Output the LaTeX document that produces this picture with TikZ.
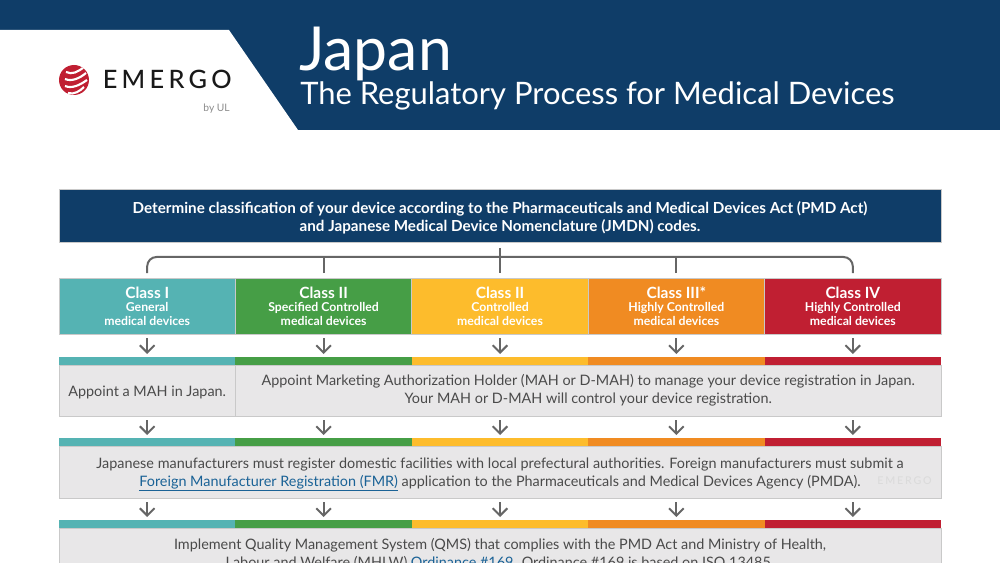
\documentclass[tikz,border=0pt]{standalone}
\usepackage{fontspec}
\setmainfont{Lato}
\newfontfamily\logofont[LetterSpace=17]{Lato Medium}
\usetikzlibrary{positioning,arrows.meta}
\definecolor{navy}{HTML}{0F3D68}
\definecolor{cteal}{HTML}{55B3B3}
\definecolor{cgreen}{HTML}{469E46}
\definecolor{cyellow}{HTML}{FDBC2C}
\definecolor{corange}{HTML}{F08B22}
\definecolor{cred}{HTML}{C01F32}
\definecolor{boxgray}{HTML}{E8E7E8}
\definecolor{edgegray}{HTML}{C9C9C9}
\definecolor{inkgray}{HTML}{4A4A4A}
\definecolor{linkblue}{HTML}{1A6296}
\newcommand{\linktext}[1]{\textcolor{linkblue}{\underline{#1}}}
\newcommand{\classhead}[1]{\rule{0pt}{9.5pt}{\fontsize{11.6pt}{10.5pt}\selectfont #1}}
\newcommand{\dropline}{\rule{0pt}{11.5pt}}
\tikzset{
  classbox/.style={draw=edgegray, line width=.75pt, inner sep=0pt, outer sep=0pt, minimum width=132.3pt, minimum height=42pt, text=white, align=center, font=\fontsize{9.2pt}{10.5pt}\selectfont\bfseries},
  barbox/.style={inner sep=0pt, outer sep=0pt, minimum width=132.3pt, minimum height=6pt},
  stepbox/.style={draw=edgegray, line width=.75pt, fill=boxgray, inner sep=0pt, outer sep=0pt, minimum height=38.25pt, text=inkgray, align=center, font=\fontsize{10.8pt}{13.5pt}\selectfont},
  nextarrow/.style={-{Straight Barb[length=5.5pt,width=11pt]}, draw=black!60, line width=1.5pt, shorten <=3pt, shorten >=2.25pt},
  brk/.style={draw=black!60, line width=1.5pt}
}
\begin{document}
\begin{tikzpicture}[x=.75pt,y=-.75pt]
  \useasboundingbox (0,0) rectangle (1000,563);
  \clip (0,0) rectangle (1000,563);
  % header
  \fill[navy] (0,0) rectangle (1000,130);
  \fill[white] (0,30) -- (229,30) -- (298,130) -- (0,130) -- cycle;
  \node[anchor=base west, inner sep=0pt, text=white, font=\fontsize{45.5pt}{46pt}\selectfont] (title) at (299,71) {Japan};
  \node[anchor=base west, inner sep=0pt, text=white, font=\fontsize{23.2pt}{24pt}\selectfont] (subtitle) at (300,105) {The Regulatory Process for Medical Devices};
  % logo
  \fill[cred] (74,80) circle (15);
  \begin{scope}
    \clip (74,80) circle (15);
    \draw[white, line width=1.6pt] (66,72) .. controls (72,75) and (78,72) .. (84,67);
    \draw[white, line width=1.6pt] (65,79) .. controls (72,82) and (80,78) .. (86,73);
    \draw[white, line width=1.6pt] (65,86) .. controls (72,89) and (80,85) .. (87,80);
    \draw[white, line width=1.6pt] (68,93) .. controls (74,95) and (80,91) .. (84,87);
  \end{scope}
  \node[anchor=base east, inner sep=0pt, text=black!90, font=\fontsize{19pt}{18pt}\logofont] (logo) at (232,89) {EMERGO};
  \node[anchor=base east, inner sep=0pt, text=black!45, font=\fontsize{7.7pt}{8pt}\selectfont] (byul) at (230,112) {by UL};

  % classification
  \node[fill=navy, draw=edgegray, line width=.75pt, inner sep=0pt, outer sep=0pt, minimum width=661.5pt, minimum height=39.75pt, text=white, align=center, font=\fontsize{11.4pt}{13.5pt}\selectfont\bfseries] (top) at (500,216.5) {\dropline Determine classification of your device according to the Pharmaceuticals and Medical Devices Act (PMD Act)\\and Japanese Medical Device Nomenclature (JMDN) codes.};

  \node[classbox, fill=cyellow, below=26.25pt of top] (c3) {\classhead{Class II}\\[-1pt]Controlled\\medical devices};
  \node[classbox, fill=cgreen, left=0pt of c3] (c2) {\classhead{Class II}\\[-1pt]Specified Controlled\\medical devices};
  \node[classbox, fill=cteal, left=0pt of c2] (c1) {\classhead{Class I}\\[-1pt]General\\medical devices};
  \node[classbox, fill=corange, right=0pt of c3] (c4) {\classhead{Class III*}\\[-1pt]Highly Controlled\\medical devices};
  \node[classbox, fill=cred, right=0pt of c4] (c5) {\classhead{Class IV}\\[-1pt]Highly Controlled\\medical devices};

  \coordinate[above=15.75pt of c1] (aux1);
  \coordinate[above=15.75pt of c2] (aux2);
  \coordinate[above=15.75pt of c4] (aux4);
  \coordinate[above=15.75pt of c5] (aux5);
  \draw[brk, rounded corners=7pt, shorten <=3.75pt, shorten >=3.75pt] (c1.north) -- (aux1) -- (aux5) -- (c5.north);
  \draw[brk, shorten <=3.75pt] (c2.north) -- (aux2);
  \draw[brk, shorten <=3.75pt, shorten >=3.75pt] (top.south) -- (c3.north);
  \draw[brk, shorten <=3.75pt] (c4.north) -- (aux4);

  % first row
  \node[barbox, fill=cteal, below=17.25pt of c1] (a1) {};
  \node[barbox, fill=cgreen, below=17.25pt of c2] (a2) {};
  \node[barbox, fill=cyellow, below=17.25pt of c3] (a3) {};
  \node[barbox, fill=corange, below=17.25pt of c4] (a4) {};
  \node[barbox, fill=cred, below=17.25pt of c5] (a5) {};
  \node[stepbox, minimum width=132.3pt, below=0pt of a1] (mah) {\dropline Appoint a MAH in Japan.};
  \node[stepbox, minimum width=529.2pt, right=0pt of mah] (dmah) {Appoint Marketing Authorization Holder (MAH or D-MAH) to manage your device registration in Japan.\\Your MAH or D-MAH will control your device registration.};
  \draw[nextarrow] (c1.south) -- (a1.north);
  \draw[nextarrow] (c2.south) -- (a2.north);
  \draw[nextarrow] (c3.south) -- (a3.north);
  \draw[nextarrow] (c4.south) -- (a4.north);
  \draw[nextarrow] (c5.south) -- (a5.north);

  % second row
  \node[barbox, fill=cteal, below=16.5pt of mah] (b1) {};
  \node[barbox, fill=cgreen, below=16.5pt of a2 |- mah.south] (b2) {};
  \node[barbox, fill=cyellow, below=16.5pt of a3 |- mah.south] (b3) {};
  \node[barbox, fill=corange, below=16.5pt of a4 |- mah.south] (b4) {};
  \node[barbox, fill=cred, below=16.5pt of a5 |- mah.south] (b5) {};
  \node[stepbox, minimum width=661.5pt, minimum height=39pt, anchor=north west] (fmr) at (b1.south west) {\dropline Japanese manufacturers must register domestic facilities with local prefectural authorities. Foreign manufacturers must submit a\\\linktext{Foreign Manufacturer Registration (FMR)} application to the Pharmaceuticals and Medical Devices Agency (PMDA).};
  \node[anchor=east, inner sep=0pt, text=black!14, font=\fontsize{8pt}{9pt}\logofont] (mark) at (932,481) {EMERGO};
  \draw[nextarrow] (a1 |- mah.south) -- (b1.north);
  \draw[nextarrow] (a2 |- mah.south) -- (b2.north);
  \draw[nextarrow] (a3 |- mah.south) -- (b3.north);
  \draw[nextarrow] (a4 |- mah.south) -- (b4.north);
  \draw[nextarrow] (a5 |- mah.south) -- (b5.north);

  % third row
  \node[barbox, fill=cteal, below=16.5pt of b1 |- fmr.south] (d1) {};
  \node[barbox, fill=cgreen, below=16.5pt of b2 |- fmr.south] (d2) {};
  \node[barbox, fill=cyellow, below=16.5pt of b3 |- fmr.south] (d3) {};
  \node[barbox, fill=corange, below=16.5pt of b4 |- fmr.south] (d4) {};
  \node[barbox, fill=cred, below=16.5pt of b5 |- fmr.south] (d5) {};
  \node[stepbox, minimum width=661.5pt, minimum height=39pt, anchor=north west] (qms) at (d1.south west) {Implement Quality Management System (QMS) that complies with the PMD Act and Ministry of Health,\\Labour and Welfare (MHLW) \linktext{Ordinance \#169}. Ordinance \#169 is based on ISO 13485.};
  \draw[nextarrow] (b1 |- fmr.south) -- (d1.north);
  \draw[nextarrow] (b2 |- fmr.south) -- (d2.north);
  \draw[nextarrow] (b3 |- fmr.south) -- (d3.north);
  \draw[nextarrow] (b4 |- fmr.south) -- (d4.north);
  \draw[nextarrow] (b5 |- fmr.south) -- (d5.north);
\end{tikzpicture}
\end{document}
